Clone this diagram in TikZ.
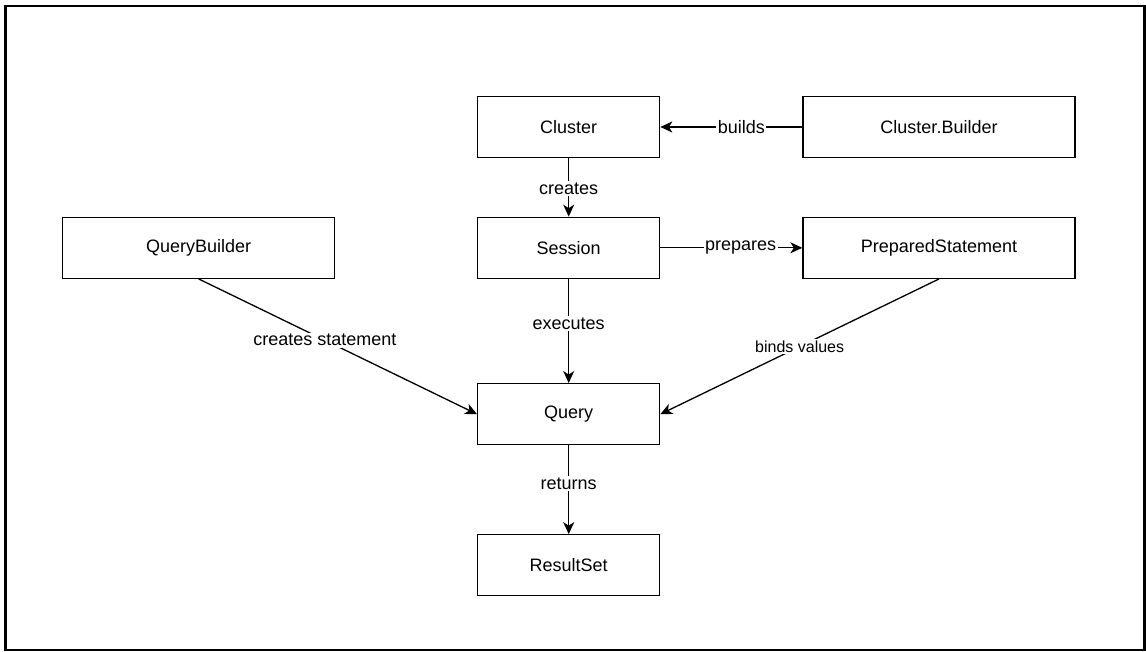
\documentclass[tikz,border=0pt]{standalone}
\usepackage{fontspec}
\setmainfont{Liberation Sans}
\usetikzlibrary{arrows.meta}
\tikzset{
  box/.style={draw=black, line width=1.3pt, minimum height=61pt, inner sep=0pt, font=\fontsize{18}{21}\selectfont},
  midbox/.style={box, minimum width=182pt},
  widebox/.style={box, minimum width=272pt},
  conn/.style={draw=black, line width=1.3pt, -{Stealth[length=12pt,width=11pt,inset=3.5pt]}},
  lbl/.style={fill=white, inner sep=1.5pt, font=\fontsize{18}{21}\selectfont},
  lblsmall/.style={fill=white, inner sep=1.5pt, font=\fontsize{16}{19}\selectfont},
}
\begin{document}
\begin{tikzpicture}[x=1pt,y=-1pt]
\useasboundingbox (0,0) rectangle (1146,652);
\draw[line width=2.5pt] (5.5,6) rectangle (1144.5,650);
\node[midbox] (cluster) at (568.7,127) {Cluster};
\node[widebox] (cbuilder) at (939,127) {Cluster.Builder};
\node[midbox] (session) at (568.7,247.8) {Session};
\node[widebox] (pstmt) at (939,247.8) {PreparedStatement};
\node[widebox] (qbuilder) at (198.7,247.8) {QueryBuilder};
\node[midbox] (query) at (568.7,414.2) {Query};
\node[midbox] (resultset) at (568.7,565.3) {ResultSet};
\draw[conn] (cbuilder) -- node[lbl, pos=0.43]{builds} (cluster);
\draw[conn] (cluster) -- node[lbl, pos=0.52]{creates} (session);
\draw[conn] (session) -- node[lbl, pos=0.565]{prepares} (pstmt);
\draw[conn] (session) -- node[lbl, pos=0.43]{executes} (query);
\draw[conn] (qbuilder.south) -- node[lbl, pos=0.453]{creates statement} (query.west);
\draw[conn] (pstmt.south) -- node[lblsmall]{binds values} (query.east);
\draw[conn] (query) -- node[lbl, pos=0.43]{returns} (resultset);
\end{tikzpicture}
\end{document}
